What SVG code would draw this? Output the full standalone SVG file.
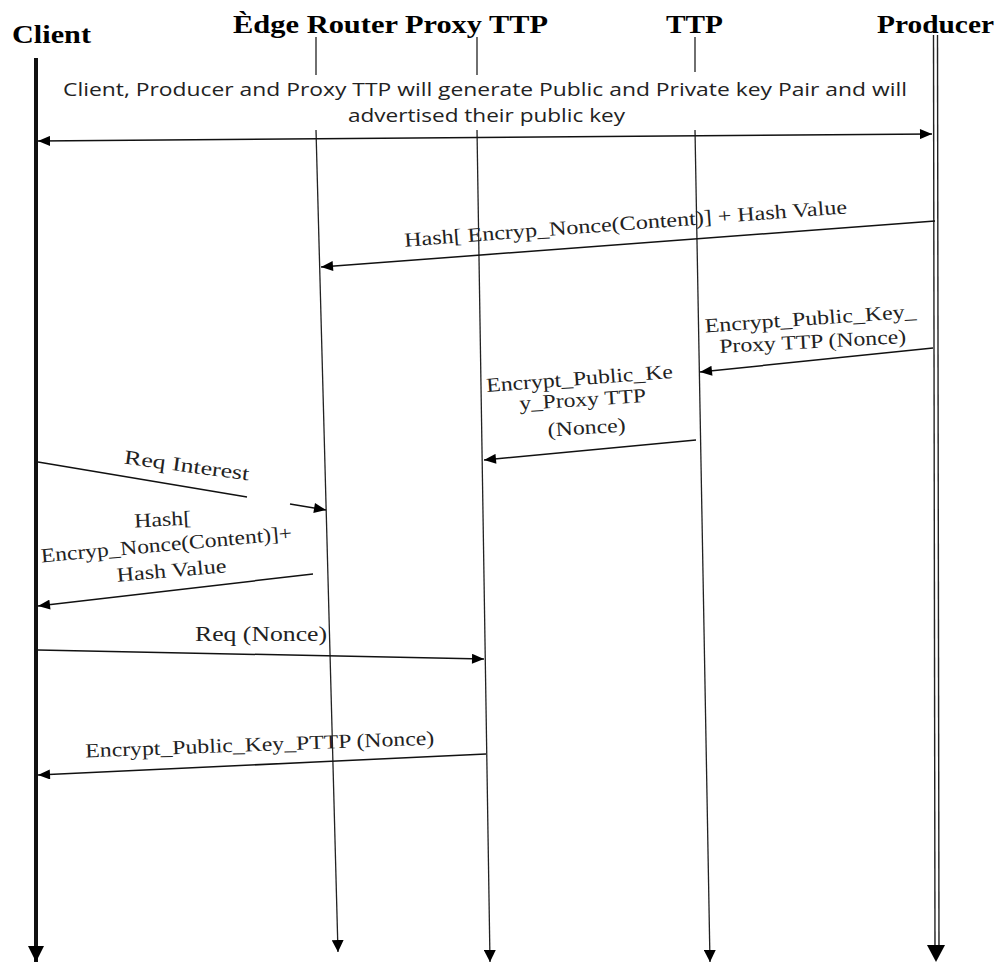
<svg xmlns="http://www.w3.org/2000/svg" width="1000" height="962" viewBox="0 0 1000 962">
<defs>
<style>
.hdr{font-family:"Liberation Serif","Times New Roman",serif;font-weight:bold;font-size:25px;fill:#000}
.note{font-family:"Open Sans","Liberation Sans",Arial,sans-serif;font-size:19px;fill:#222}
.lbl{font-family:"Liberation Serif","Times New Roman",serif;font-size:20px;fill:#222;text-anchor:middle}
.life{stroke:#222;stroke-width:1.3;fill:none}
.msg{stroke:#111;stroke-width:1.5;fill:none}
</style>
<marker id="ah" viewBox="0 0 12 10" refX="12" refY="5" markerWidth="13" markerHeight="10" markerUnits="userSpaceOnUse" orient="auto-start-reverse"><path d="M0,0 L12,5 L0,10 z" fill="#000"/></marker>
<marker id="ahs" viewBox="0 0 10 10" refX="10" refY="5" markerWidth="12" markerHeight="12" markerUnits="userSpaceOnUse" orient="auto"><path d="M0,0 L10,5 L0,10 z" fill="#000"/></marker>
<marker id="ahb" viewBox="0 0 10 10" refX="10" refY="5" markerWidth="18" markerHeight="16" markerUnits="userSpaceOnUse" orient="auto"><path d="M0,0 L10,5 L0,10 z" fill="#000"/></marker>
</defs>
<rect width="1000" height="962" fill="#fff"/>

<g id="client">
<text class="hdr" x="12" y="43" textLength="79" lengthAdjust="spacingAndGlyphs">Client</text>
<line x1="36" y1="58" x2="36" y2="962" stroke="#111" stroke-width="4" marker-end="url(#ahb)"/>
</g>
<g id="edge-router">
<text class="hdr" x="233" y="33" textLength="165" lengthAdjust="spacingAndGlyphs">Èdge Router</text>
<line class="life" x1="316" y1="37" x2="316" y2="75"/>
<line class="life" x1="316" y1="130" x2="338" y2="952" marker-end="url(#ahs)"/>
</g>
<g id="proxy-ttp">
<text class="hdr" x="405" y="33" textLength="143" lengthAdjust="spacingAndGlyphs">Proxy TTP</text>
<line class="life" x1="477" y1="37" x2="477" y2="75"/>
<line class="life" x1="477" y1="130" x2="490" y2="962" marker-end="url(#ahs)"/>
</g>
<g id="ttp">
<text class="hdr" x="666" y="33" textLength="57" lengthAdjust="spacingAndGlyphs">TTP</text>
<line class="life" x1="695" y1="37" x2="695" y2="72"/>
<line class="life" x1="695" y1="130" x2="710" y2="962" marker-end="url(#ahs)"/>
</g>
<g id="producer">
<text class="hdr" x="877" y="33" textLength="117" lengthAdjust="spacingAndGlyphs">Producer</text>
<line x1="933.5" y1="35" x2="935" y2="950" stroke="#222" stroke-width="1.4"/>
<line x1="937.5" y1="35" x2="939" y2="950" stroke="#222" stroke-width="1.4"/>
<path d="M927,945 L945,945 L936,962 z" fill="#000"/>
</g>

<g id="connectors">
<text class="note" x="63" y="96" textLength="844" lengthAdjust="spacingAndGlyphs">Client, Producer and Proxy TTP  will generate Public and Private key Pair and will</text>
<text class="note" x="348" y="122" textLength="277" lengthAdjust="spacingAndGlyphs">advertised their public key</text>
<line class="msg" x1="38" y1="141" x2="932" y2="134" marker-start="url(#ah)" marker-end="url(#ah)"/>

<line class="msg" x1="935" y1="221" x2="321" y2="267" marker-end="url(#ah)"/>
<text class="lbl" transform="translate(626,230) rotate(-4.3)" textLength="444" lengthAdjust="spacingAndGlyphs">Hash[ Encryp_Nonce(Content)] + Hash Value</text>

<line class="msg" x1="933" y1="348" x2="700" y2="372" marker-end="url(#ah)"/>
<text class="lbl" transform="translate(811,325) rotate(-4)" textLength="212" lengthAdjust="spacingAndGlyphs">Encrypt_Public_Key_</text>
<text class="lbl" transform="translate(813,348) rotate(-3)" textLength="187" lengthAdjust="spacingAndGlyphs">Proxy TTP (Nonce)</text>

<line class="msg" x1="696" y1="440" x2="484" y2="460" marker-end="url(#ah)"/>
<text class="lbl" transform="translate(580,385) rotate(-4.3)" textLength="187" lengthAdjust="spacingAndGlyphs">Encrypt_Public_Ke</text>
<text class="lbl" transform="translate(583,406) rotate(-3.6)" textLength="127" lengthAdjust="spacingAndGlyphs">y_Proxy TTP</text>
<text class="lbl" transform="translate(587,434) rotate(-3.5)" textLength="78" lengthAdjust="spacingAndGlyphs">(Nonce)</text>

<line class="msg" x1="38" y1="462" x2="247" y2="497"/>
<line class="msg" x1="290" y1="504" x2="326" y2="510" marker-end="url(#ah)"/>
<text class="lbl" transform="translate(186,472) rotate(7.7)" textLength="126" lengthAdjust="spacingAndGlyphs">Req Interest</text>

<line class="msg" x1="313" y1="574" x2="38" y2="606" marker-end="url(#ah)"/>
<text class="lbl" transform="translate(163,526) rotate(-3)" textLength="57" lengthAdjust="spacingAndGlyphs">Hash[</text>
<text class="lbl" transform="translate(167,551) rotate(-5.2)" textLength="252" lengthAdjust="spacingAndGlyphs">Encryp_Nonce(Content)]+</text>
<text class="lbl" transform="translate(172,577) rotate(-5)" textLength="110" lengthAdjust="spacingAndGlyphs">Hash Value</text>

<line class="msg" x1="38" y1="650" x2="484" y2="659" marker-end="url(#ah)"/>
<text class="lbl" transform="translate(261,641)" textLength="132" lengthAdjust="spacingAndGlyphs">Req (Nonce)</text>

<line class="msg" x1="486" y1="754" x2="38" y2="775" marker-end="url(#ah)"/>
<text class="lbl" transform="translate(260,751) rotate(-2.1)" textLength="349" lengthAdjust="spacingAndGlyphs">Encrypt_Public_Key_PTTP (Nonce)</text>
</g>
</svg>
